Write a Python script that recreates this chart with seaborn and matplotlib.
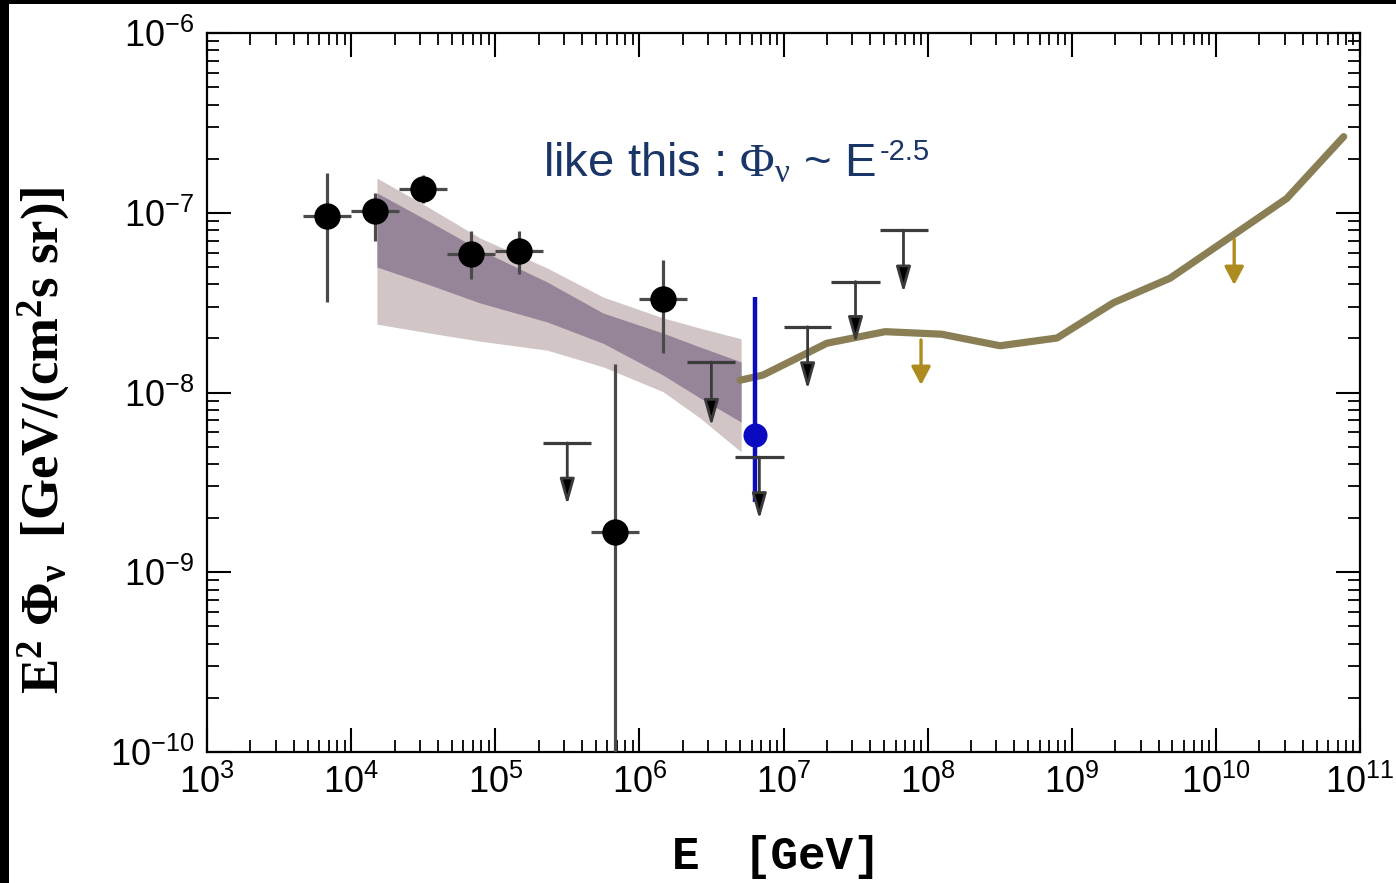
import numpy as np
import pandas as pd
import matplotlib
matplotlib.use("Agg")
import matplotlib.pyplot as plt
import seaborn as sns
from matplotlib.patches import Rectangle
from matplotlib.ticker import LogLocator, NullFormatter

# ---------------- data ----------------
# measured points (black circles) with asymmetric error bars
pt_E = [6.8e3, 1.47e4, 3.16e4, 6.8e4, 1.47e5, 6.8e5, 1.47e6]
pt_F = [9.6e-8, 1.02e-7, 1.36e-7, 5.9e-8, 6.1e-8, 1.67e-9, 3.3e-8]
pt_F_lo = [3.2e-8, 7.0e-8, 1.13e-7, 4.3e-8, 4.56e-8, 1e-11, 1.65e-8]
pt_F_hi = [1.66e-7, 1.29e-7, 1.62e-7, 7.9e-8, 7.9e-8, 1.44e-8, 5.46e-8]
pt_E_lo = [4.64e3, 1.0e4, 2.15e4, 4.64e4, 1.0e5, 4.64e5, 1.0e6]
pt_E_hi = [1.0e4, 2.15e4, 4.64e4, 1.0e5, 2.15e5, 1.0e6, 2.15e6]

# upper limits (black)
ul_E = [3.16e5, 3.16e6, 6.8e6, 1.47e7, 3.16e7, 6.8e7]
ul_E_lo = [2.15e5, 2.15e6, 4.64e6, 1.0e7, 2.15e7, 4.64e7]
ul_E_hi = [4.64e5, 4.64e6, 1.0e7, 2.15e7, 4.64e7, 1.0e8]
ul_F = [5.24e-9, 1.48e-8, 4.37e-9, 2.32e-8, 4.14e-8, 8.0e-8]
ul_tip = [2.37e-9, 6.5e-9, 1.97e-9, 1.04e-8, 1.88e-8, 3.59e-8]

# fit bands
band_E = [1.51e4, 3.53e4, 7.84e4, 2.29e5, 5.59e5, 1.46e6, 2.64e6, 5.08e6]
light_hi = [1.56e-7, 1.06e-7, 7.24e-8, 4.93e-8, 3.40e-8, 2.60e-8, 2.28e-8, 1.99e-8]
light_lo = [2.40e-8, 2.14e-8, 1.93e-8, 1.72e-8, 1.39e-8, 1.01e-8, 7.21e-9, 4.67e-9]
dark_hi = [1.29e-7, 8.89e-8, 6.21e-8, 4.12e-8, 2.77e-8, 2.14e-8, 1.79e-8, 1.48e-8]
dark_lo = [4.99e-8, 3.96e-8, 3.15e-8, 2.47e-8, 1.88e-8, 1.25e-8, 9.31e-9, 6.85e-9]

# sensitivity curve (olive)
curve_E = [5.0e6, 7.2e6, 2.0e7, 5.07e7, 1.25e8, 3.18e8, 7.9e8, 1.95e9, 4.8e9, 3.1e10, 7.7e10]
curve_F = [1.17e-8, 1.25e-8, 1.88e-8, 2.18e-8, 2.11e-8, 1.82e-8, 2.01e-8, 3.16e-8, 4.32e-8, 1.20e-7, 2.65e-7]

# gold upper limits
gold_E = [9.0e7, 1.34e10]
gold_F = [1.96e-8, 7.1e-8]
gold_tip = [1.10e-8, 3.96e-8]

# blue point
blue_E = [6.3e6]
blue_F = [5.8e-9]
blue_lo = [2.47e-9]
blue_hi = [3.41e-8]

x_ticks = [1e3, 1e4, 1e5, 1e6, 1e7, 1e8, 1e9, 1e10, 1e11]
y_ticks = [1e-10, 1e-9, 1e-8, 1e-7, 1e-6]

# ---------------- style ----------------
sns.set_theme(style="ticks")
plt.rcParams["font.family"] = ["Liberation Sans", "DejaVu Sans"]
plt.rcParams["mathtext.fontset"] = "custom"
plt.rcParams["mathtext.rm"] = "Liberation Serif"
plt.rcParams["mathtext.it"] = "Liberation Serif:italic"
plt.rcParams["mathtext.bf"] = "Liberation Serif:bold"
plt.rcParams["mathtext.sf"] = "Liberation Sans"

W, H = 1396, 883
fig = plt.figure(figsize=(W / 100, H / 100), dpi=100)
fig.patch.set_facecolor("white")
ax = fig.add_axes([207 / W, 1 - 752 / H, (1360 - 207) / W, (752 - 33) / H])
ax.set_facecolor("white")
ax.set_xscale("log")
ax.set_yscale("log")

# bands
ax.fill_between(band_E, light_lo, light_hi, color="#D2C5C6", lw=0, zorder=1)
ax.fill_between(band_E, dark_lo, dark_hi, color="#968499", lw=0, zorder=1.5)

# olive curve
sns.lineplot(x=curve_E, y=curve_F, color="#8A7F54", lw=5.2, sort=False, ax=ax, zorder=2)

# data points
pt_F_a = np.array(pt_F)
yerr = [pt_F_a - np.array(pt_F_lo), np.array(pt_F_hi) - pt_F_a]
pt_E_a = np.array(pt_E)
xerr = [pt_E_a - np.array(pt_E_lo), np.array(pt_E_hi) - pt_E_a]
ax.errorbar(pt_E, pt_F, yerr=yerr, xerr=xerr, fmt="none", ecolor="#4a4a4a",
            elinewidth=2.3, capsize=0, zorder=3)
pts = pd.DataFrame({"E": pt_E, "F": pt_F})
sns.scatterplot(data=pts, x="E", y="F", color="black", s=360, linewidth=0, ax=ax, zorder=4)

# blue point
ax.vlines(blue_E, blue_lo, blue_hi, color="#0A0AC0", lw=3.2, zorder=5)
sns.scatterplot(x=blue_E, y=blue_F, color="#0A0AC0", s=300, linewidth=0, ax=ax, zorder=5)

# black upper limits
ax.hlines(ul_F, ul_E_lo, ul_E_hi, color="#3c3c3c", lw=2.3, zorder=6)
for e, f, t in zip(ul_E, ul_F, ul_tip):
    ax.annotate("", xy=(e, t), xytext=(e, f),
                arrowprops=dict(arrowstyle="-|>,head_length=0.78,head_width=0.22",
                                mutation_scale=20, lw=2.0, ec="#3a3a3a", fc="black",
                                shrinkA=0, shrinkB=0), zorder=6)

# gold upper limits
for e, f, t in zip(gold_E, gold_F, gold_tip):
    ax.annotate("", xy=(e, t), xytext=(e, f),
                arrowprops=dict(arrowstyle="-|>,head_length=0.55,head_width=0.29",
                                mutation_scale=20, lw=2.4, color="#AE8B1E",
                                shrinkA=0, shrinkB=0), zorder=6)

# axes
ax.set_xlim(1e3, 1e11)
ax.set_ylim(1e-10, 1e-6)
ax.xaxis.set_major_locator(LogLocator(base=10, numticks=20))
ax.yaxis.set_major_locator(LogLocator(base=10, numticks=20))
ax.xaxis.set_minor_locator(LogLocator(base=10, subs=np.arange(2, 10), numticks=200))
ax.yaxis.set_minor_locator(LogLocator(base=10, subs=np.arange(2, 10), numticks=200))
ax.xaxis.set_minor_formatter(NullFormatter())
ax.yaxis.set_minor_formatter(NullFormatter())
ax.set_xticks(x_ticks)
ax.set_yticks(y_ticks)
ax.tick_params(which="both", direction="in", top=True, right=True, colors="black")
ax.tick_params(which="major", length=17, width=1.5, labelsize=26, pad=9)
ax.tick_params(which="minor", length=8.5, width=1.3)
for sp in ax.spines.values():
    sp.set_linewidth(1.6)
    sp.set_color("black")
    sp.set_visible(True)
ax.set_xlabel("")
ax.set_ylabel("")

# labels
fig.text(44 / W, 1 - 440 / H,
         r"E$\mathdefault{^2}$ Φ$\mathdefault{_ν}$  [GeV/(cm$\mathdefault{^2}$s sr)]",
         rotation=90, ha="center", va="center", fontsize=38,
         family="Liberation Serif", weight="bold", color="black")
fig.text(686 / W, 1 - 857 / H, "E", ha="center", va="center",
         fontsize=33, family="Liberation Mono", weight="bold", color="black")
fig.text(812 / W, 1 - 857 / H, "[GeV]", ha="center", va="center",
         fontsize=33, family="Liberation Mono", weight="bold", color="black")

# annotation text
fig.text(543 / W, 1 - 177 / H,
         r"like this : $\mathrm{\Phi}_{\mathrm{\nu}}$ ~ E",
         ha="left", va="baseline", fontsize=34, color="#1A3668")
fig.text(880 / W, 1 - 160 / H, "-2.5", ha="left", va="baseline",
         fontsize=21, color="#1A3668")

# screenshot border
fig.add_artist(Rectangle((0, 1 - 4 / H), 1, 4 / H, transform=fig.transFigure,
                         color="black", lw=0, zorder=10))
fig.add_artist(Rectangle((0, 0), 9 / W, 1, transform=fig.transFigure,
                         color="black", lw=0, zorder=10))

fig.savefig("out.png", dpi=100, facecolor="white")
